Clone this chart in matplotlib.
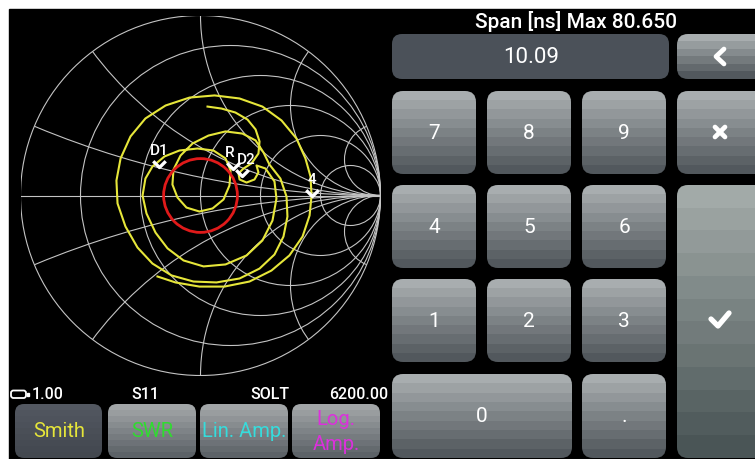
import numpy as np
import matplotlib
matplotlib.use("Agg")
import matplotlib.pyplot as plt
from matplotlib.patches import Circle, Rectangle, FancyBboxPatch
from matplotlib.path import Path
from matplotlib.colors import LinearSegmentedColormap

plt.rcParams["font.family"] = ["Roboto", "DejaVu Sans"]

# S11 trace (reflection coefficient)
gamma_re = [0.039, 0.117, 0.194, 0.261, 0.306, 0.328, 0.322, 0.283, 0.239, 0.211,
            0.217, 0.256, 0.300, 0.322, 0.311, 0.361, 0.411, 0.422, 0.400, 0.344,
            0.256, 0.139, 0.017, -0.094, -0.183, -0.250, -0.300, -0.322, -0.306, -0.267,
            -0.200, -0.117, -0.017, 0.072, 0.139, 0.167, 0.161, 0.128, 0.067, -0.006,
            -0.078, -0.128, -0.156, -0.150, -0.111, -0.044, 0.044, 0.139, 0.233, 0.306,
            0.350, 0.383, 0.444, 0.478, 0.483, 0.461, 0.411, 0.328, 0.217, 0.089,
            -0.039, -0.161, -0.267, -0.350, -0.417, -0.461, -0.467, -0.444, -0.389, -0.306,
            -0.194, -0.061, 0.078, 0.217, 0.344, 0.450, 0.533, 0.583, 0.611, 0.617,
            0.606, 0.567, 0.494, 0.394, 0.272, 0.133, -0.006, -0.139, -0.239]
gamma_im = [0.494, 0.483, 0.461, 0.422, 0.367, 0.300, 0.233, 0.178, 0.150, 0.122,
            0.089, 0.072, 0.089, 0.128, 0.167, 0.150, 0.078, -0.017, -0.139, -0.250,
            -0.333, -0.383, -0.394, -0.361, -0.294, -0.206, -0.100, 0.000, 0.094, 0.161,
            0.217, 0.250, 0.261, 0.250, 0.206, 0.139, 0.056, -0.022, -0.072, -0.089,
            -0.067, -0.011, 0.061, 0.144, 0.222, 0.289, 0.333, 0.356, 0.344, 0.306,
            0.239, 0.172, 0.094, -0.006, -0.117, -0.228, -0.328, -0.406, -0.461, -0.483,
            -0.478, -0.444, -0.378, -0.289, -0.172, -0.044, 0.083, 0.206, 0.328, 0.428,
            0.500, 0.544, 0.556, 0.539, 0.494, 0.417, 0.317, 0.206, 0.106, 0.000,
            -0.111, -0.228, -0.333, -0.417, -0.478, -0.506, -0.506, -0.483, -0.450]

vswr_gamma = 0.205  # red limit circle

marker_names = ["D1", "R", "D2", "4"]
marker_re = [-0.228, 0.178, 0.228, 0.617]
marker_im = [0.161, 0.150, 0.111, 0.0]
label_dx = [0, -2, 3, 0]   # label nudges (points), R and D2 sit on top of each other

r_circles = [0.2, 0.5, 1, 2, 5]
x_arcs = [0.2, 0.5, 1, 2, 5]

status_texts = ["1.00", "S11", "SOLT", "6200.00"]
trace_buttons = ["Smith", "SWR", "Lin. Amp.", "Log.\nAmp."]
trace_colors = ["#e6e63a", "#2fdc2f", "#36dcdc", "#dc30dc"]

title = "Span [ns] Max 80.650"
entry_value = "10.09"
keys = [["7", "8", "9"], ["4", "5", "6"], ["1", "2", "3"]]

GRID = "#c4c4c4"
KEY_TOP, KEY_BOT = "#a8adaf", "#52585d"
KEY_FS = 15

fig = plt.figure(figsize=(7.55, 4.6), dpi=100)
fig.patch.set_facecolor("white")

ui = fig.add_axes([0, 0, 1, 1])
ui.set_xlim(0, 755)
ui.set_ylim(460, 0)
ui.axis("off")
ui.add_patch(Rectangle((9, 10), 746, 450, color="black", zorder=0))


def button(x, y, w, h, top, bottom, rounding=11, bands=9):
    box = FancyBboxPatch((x, y), w, h, boxstyle=f"round,pad=0,rounding_size={rounding}",
                         fc="none", ec="none")
    ui.add_patch(box)
    cmap = LinearSegmentedColormap.from_list("g", [top, bottom])
    grad = np.linspace(0, 1, bands).reshape(-1, 1)
    im = ui.imshow(grad, cmap=cmap, extent=(x, x + w, y + h, y), origin="upper",
                   aspect="auto", interpolation="nearest", zorder=1)
    im.set_clip_path(box)


# status line
ui.add_patch(FancyBboxPatch((11, 391.5), 15, 7.5, boxstyle="round,pad=0,rounding_size=2.5",
                            fc="none", ec="white", lw=1.3, zorder=2))
ui.add_patch(Rectangle((26.5, 393.5), 2, 3.5, color="white", zorder=2))
st = dict(color="white", fontsize=11.5, fontweight="medium", va="center")
ui.text(32, 395, status_texts[0], ha="left", **st)
ui.text(145, 395, status_texts[1], ha="center", **st)
ui.text(270, 395, status_texts[2], ha="center", **st)
ui.text(388, 395, status_texts[3], ha="right", **st)

# trace selection buttons
bx = [15, 108, 200, 292]
for i, (lab, col) in enumerate(zip(trace_buttons, trace_colors)):
    if i == 0:
        button(bx[i], 405, 87, 54, "#535861", "#43484f", rounding=9)
    else:
        button(bx[i], 405, 88, 54, "#a2a6a8", "#5c6267", rounding=9)
    ui.text(bx[i] + 44, 432, lab, color=col, fontsize=14.5, ha="center", va="center",
            linespacing=1.45, zorder=3)

# keypad side
ui.text(576, 21, title, color="white", fontsize=15, fontweight="medium",
        ha="center", va="center")
ui.add_patch(FancyBboxPatch((392, 35), 277, 45, boxstyle="round,pad=0,rounding_size=10",
                            fc="#4b5159", ec="none", zorder=1))
ui.text(531, 57.5, entry_value, color="white", fontsize=16, ha="center", va="center")

button(677, 35, 90, 45, KEY_TOP, KEY_BOT, bands=6)
ui.plot([724, 716, 724], [50, 57.5, 65], color="white", lw=3.4,
        solid_capstyle="round", solid_joinstyle="round", zorder=3)

col_x = [392, 487, 582]
row_y = [92, 186, 280]
for r, row in enumerate(keys):
    for c, k in enumerate(row):
        button(col_x[c], row_y[r], 84, 83, KEY_TOP, KEY_BOT)
        ui.text(col_x[c] + 42, row_y[r] + 42, k, color="white", fontsize=KEY_FS,
                ha="center", va="center", zorder=3)

button(392, 375, 180, 84, KEY_TOP, KEY_BOT)
ui.text(482, 417, "0", color="white", fontsize=KEY_FS, ha="center", va="center", zorder=3)
button(582, 375, 84, 84, KEY_TOP, KEY_BOT)
ui.text(624, 417, ".", color="white", fontsize=KEY_FS, ha="center", va="center", zorder=3)

button(677, 92, 90, 83, KEY_TOP, KEY_BOT)
ui.plot([715, 725], [128, 138], color="white", lw=3.4, solid_capstyle="round", zorder=3)
ui.plot([715, 725], [138, 128], color="white", lw=3.4, solid_capstyle="round", zorder=3)

button(677, 186, 90, 273, "#a2aaa8", "#4a5556", bands=12)
ui.plot([711, 718, 729], [320, 327, 314], color="white", lw=3.8,
        solid_capstyle="round", solid_joinstyle="round", zorder=3)

ui.set_xlim(0, 755)
ui.set_ylim(460, 0)

# Smith chart
cx, cy, rad = 200.5, 196.5, 180
sm = fig.add_axes([(cx - rad) / 755, (460 - cy - rad) / 460, 2 * rad / 755, 2 * rad / 460])
sm.set_xlim(-1, 1)
sm.set_ylim(-1, 1)
sm.axis("off")
sm.patch.set_alpha(0)

outer = Circle((0, 0), 1, fill=False, ec=GRID, lw=0.8)
sm.add_patch(outer)
for r in r_circles:
    sm.add_patch(Circle((r / (1 + r), 0), 1 / (1 + r), fill=False, ec=GRID, lw=0.8))
for x in x_arcs:
    for s in (1, -1):
        arc = Circle((1, s / x), 1 / x, fill=False, ec=GRID, lw=0.8)
        sm.add_patch(arc)
        arc.set_clip_path(outer)
sm.plot([-1, 1], [0, 0], color=GRID, lw=0.8)

sm.plot(gamma_re, gamma_im, color="#e6e63a", lw=1.5, zorder=4)
sm.add_patch(Circle((0, 0), vswr_gamma, fill=False, ec="#e01a1a", lw=2.0, zorder=5))

chevron = Path([(-1, 1), (0, 0), (1, 1)], [Path.MOVETO, Path.LINETO, Path.LINETO])
sm.plot(marker_re, marker_im, ls="none", marker=chevron, ms=9, mec="white",
        mfc="none", mew=2.4, zorder=6)
for name, mr, mi, dx in zip(marker_names, marker_re, marker_im, label_dx):
    sm.annotate(name, (mr, mi), xytext=(dx, 12), textcoords="offset points",
                ha="center", va="center", color="white", fontsize=11,
                fontweight="medium", zorder=6)

fig.savefig("out.png", dpi=100, facecolor=fig.get_facecolor())
